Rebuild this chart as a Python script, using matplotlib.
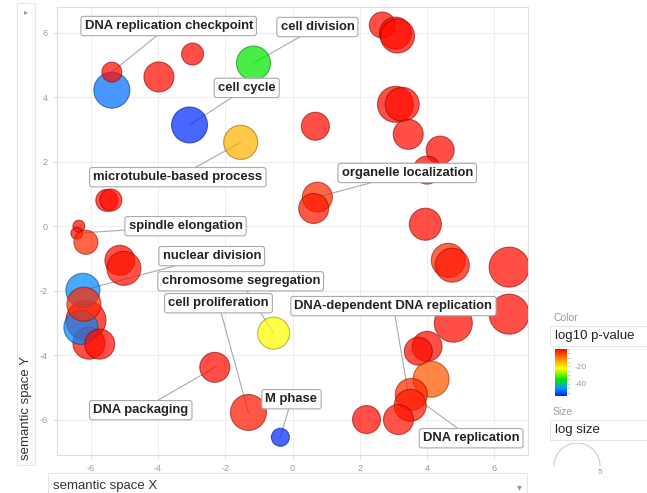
import numpy as np
import matplotlib
matplotlib.use("Agg")
import matplotlib.pyplot as plt
from matplotlib.colors import LinearSegmentedColormap, Normalize
from matplotlib.patches import Rectangle, Arc
from matplotlib.ticker import MultipleLocator
import matplotlib.cm as cm

plt.rcParams['font.family'] = ['Liberation Sans', 'DejaVu Sans']
plt.rcParams['axes.unicode_minus'] = False

# === Data ===
sem_x = [-5.37, -5.37, -3.97, -2.97, -1.16, -3.06, -1.54, 0.68, 0.74, 0.63,
         -5.52, -5.40, -6.35, -6.41, -6.14, 2.67, 3.06, 3.12, 3.06, 3.26,
         3.44, 4.39, 4.00, 3.95, 4.63, 4.75, 6.44, 6.44, 4.78, 4.00,
         3.74, 4.12, 3.53, 3.50, 2.20, 3.15, -5.13, -5.01, -6.14, -6.05,
         -6.29, -5.73, -6.23, -6.20, -0.56, -2.31, -1.31, -0.36]
sem_y = [4.22, 4.78, 4.63, 5.34, 5.06, 3.14, 2.60, 3.10, 0.90, 0.55,
         0.80, 0.81, 0.00, -0.22, -0.50, 6.24, 5.99, 5.90, 3.78, 3.78,
         2.85, 2.36, 1.74, 0.06, -1.06, -1.21, -1.27, -2.73, -3.01, -3.73,
         -3.88, -4.75, -5.22, -5.56, -6.00, -6.00, -1.06, -1.31, -2.92, -3.63,
         -3.14, -3.66, -1.99, -2.42, -3.32, -4.38, -5.78, -6.55]
log_size = [3.91, 2.17, 3.26, 2.39, 3.70, 3.91, 3.70, 3.04, 3.26, 3.26,
            2.39, 2.39, 1.30, 1.30, 2.61, 2.83, 3.48, 3.70, 3.91, 3.70,
            3.26, 3.04, 3.04, 3.48, 3.70, 3.70, 4.35, 4.35, 4.13, 3.26,
            3.04, 3.91, 3.48, 3.48, 3.04, 3.26, 3.26, 3.70, 4.35, 3.48,
            3.70, 3.26, 3.70, 3.70, 3.48, 3.26, 3.91, 1.96]
log10_p = [-48, -1, -1, -1, -35, -53, -15, -1, -3.5, -2,
           -1, -1, -1, -1, -3.5, -1, -1, -1, -1, -1,
           -1, -1, -1, -1, -3.5, -2, -1, -1, -1, -1,
           -1, -7, -3.5, -2, -1, -1.5, -1, -1.5, -1, -1,
           -46, -1, -46, -3.5, -22, -1, -2, -53]

labels = ["DNA replication checkpoint", "cell division", "cell cycle",
          "microtubule-based process", "organelle localization", "spindle elongation",
          "nuclear division", "chromosome segregation", "cell proliferation",
          "DNA-dependent DNA replication", "DNA replication", "DNA packaging", "M phase"]
label_x = [-3.68, 0.74, -1.36, -3.41, 3.41, -3.18, -2.40, -1.54, -2.20, 3.00, 5.31, -4.51, -0.03]
label_y = [6.21, 6.18, 4.29, 1.52, 1.65, 0.00, -0.93, -1.71, -2.39, -2.48, -6.58, -5.71, -5.37]
label_target = [1, 4, 5, 6, 8, 13, 42, 44, 46, 33, 32, 45, 47]

# rainbow scale: blue (very low p) -> red
cmap = LinearSegmentedColormap.from_list(
    "revigo", [(0.0, "#0022ff"), (0.17, "#0099ff"), (0.35, "#00e600"),
               (0.59, "#ffff00"), (0.81, "#ff8000"), (1.0, "#ff0000")])
norm = Normalize(vmin=-54, vmax=0)

W, H = 647, 493
fig = plt.figure(figsize=(W / 100, H / 100), dpi=100)
ax = fig.add_axes([57 / W, 1 - 455 / H, 471 / W, 448 / H])

face = cmap(norm(np.array(log10_p)))
face[:, 3] = 0.72
edge = face.copy()
edge[:, :3] *= 0.55
edge[:, 3] = 0.6
radius_px = 4.6 * np.array(log_size)
sizes = (1.44 * radius_px) ** 2
ax.scatter(sem_x, sem_y, s=sizes, c=face, edgecolors=edge, linewidths=0.8, zorder=3)

# leader lines + label boxes
for lab, lx, ly, t in zip(labels, label_x, label_y, label_target):
    ax.plot([lx, sem_x[t]], [ly, sem_y[t]], color='#aaaaaa', lw=0.8, zorder=2)
    ax.text(lx, ly, lab, ha='center', va='center', fontsize=9.4, fontweight='bold',
            color='#222222', zorder=5,
            bbox=dict(boxstyle='round,pad=0.28,rounding_size=0.2', fc='white',
                      ec='#aaaaaa', lw=0.8))

ax.set_xlim(-7, 7)
ax.set_ylim(-7.1, 6.8)
ax.set_xticks([-6, -4, -2, 0, 2, 4, 6])
ax.set_yticks([-6, -4, -2, 0, 2, 4, 6])
ax.grid(color='#eeeeee', lw=0.8, zorder=0)
ax.set_axisbelow(True)
ax.tick_params(labelsize=6.5, labelcolor='#999999', color='#dddddd', length=3)
for sp in ax.spines.values():
    sp.set_color('#dddddd')

# UI chrome: y-axis selector on left, x-axis selector at bottom
fig.patches.append(Rectangle((17 / W, 1 - 465 / H), 18 / W, 462 / H, transform=fig.transFigure,
                             fc='white', ec='#e6e6e6', lw=0.8))
fig.text(26 / W, 1 - 13 / H, "\u25b8", fontsize=6, color='#999999', ha='center', va='center')
fig.text(26 / W, 1 - 408 / H, "semantic space Y", rotation=90, fontsize=9.5,
         color='#333333', ha='center', va='center')
fig.patches.append(Rectangle((48 / W, 1 - 493 / H), 479 / W, 20 / H, transform=fig.transFigure,
                             fc='white', ec='#e6e6e6', lw=0.8))
fig.text(53 / W, 1 - 486 / H, "semantic space X", fontsize=9.5, color='#333333', va='center')
fig.text(519 / W, 1 - 487 / H, "\u25be", fontsize=7, color='#999999', ha='center', va='center')

# legend: colour
fig.text(553 / W, 1 - 318 / H, "Color", fontsize=7.5, color='#999999', va='center')
fig.patches.append(Rectangle((550 / W, 1 - 346 / H), 100 / W, 20 / H, transform=fig.transFigure,
                             fc='white', ec='#e6e6e6', lw=0.8))
fig.text(555 / W, 1 - 336 / H, "log10 p-value", fontsize=9.5, color='#222222', va='center')
cax = fig.add_axes([555 / W, 1 - 396 / H, 12 / W, 47 / H])
cb = fig.colorbar(cm.ScalarMappable(norm=norm, cmap=cmap), cax=cax)
cb.set_ticks([-20, -40])
cb.ax.yaxis.set_minor_locator(MultipleLocator(5))
cb.ax.tick_params(which='both', labelsize=6, labelcolor='#999999', color='#bbbbbb',
                  length=2, width=0.5)
cb.outline.set_visible(False)

# legend: size
fig.text(553 / W, 1 - 412 / H, "Size", fontsize=7.5, color='#999999', va='center')
fig.patches.append(Rectangle((550 / W, 1 - 440 / H), 100 / W, 20 / H, transform=fig.transFigure,
                             fc='white', ec='#e6e6e6', lw=0.8))
fig.text(555 / W, 1 - 430 / H, "log size", fontsize=9.5, color='#222222', va='center')
lax = fig.add_axes([550 / W, 0, 60 / W, 50 / H])
lax.set_xlim(550, 610)
lax.set_ylim(493, 443)
lax.axis('off')
lax.add_patch(Arc((577, 466), 46, 46, theta1=180, theta2=360, color='#cccccc', lw=0.8))
lax.text(600, 473, "5", fontsize=6, color='#999999', ha='center', va='center')

fig.savefig("out.png", dpi=100)
